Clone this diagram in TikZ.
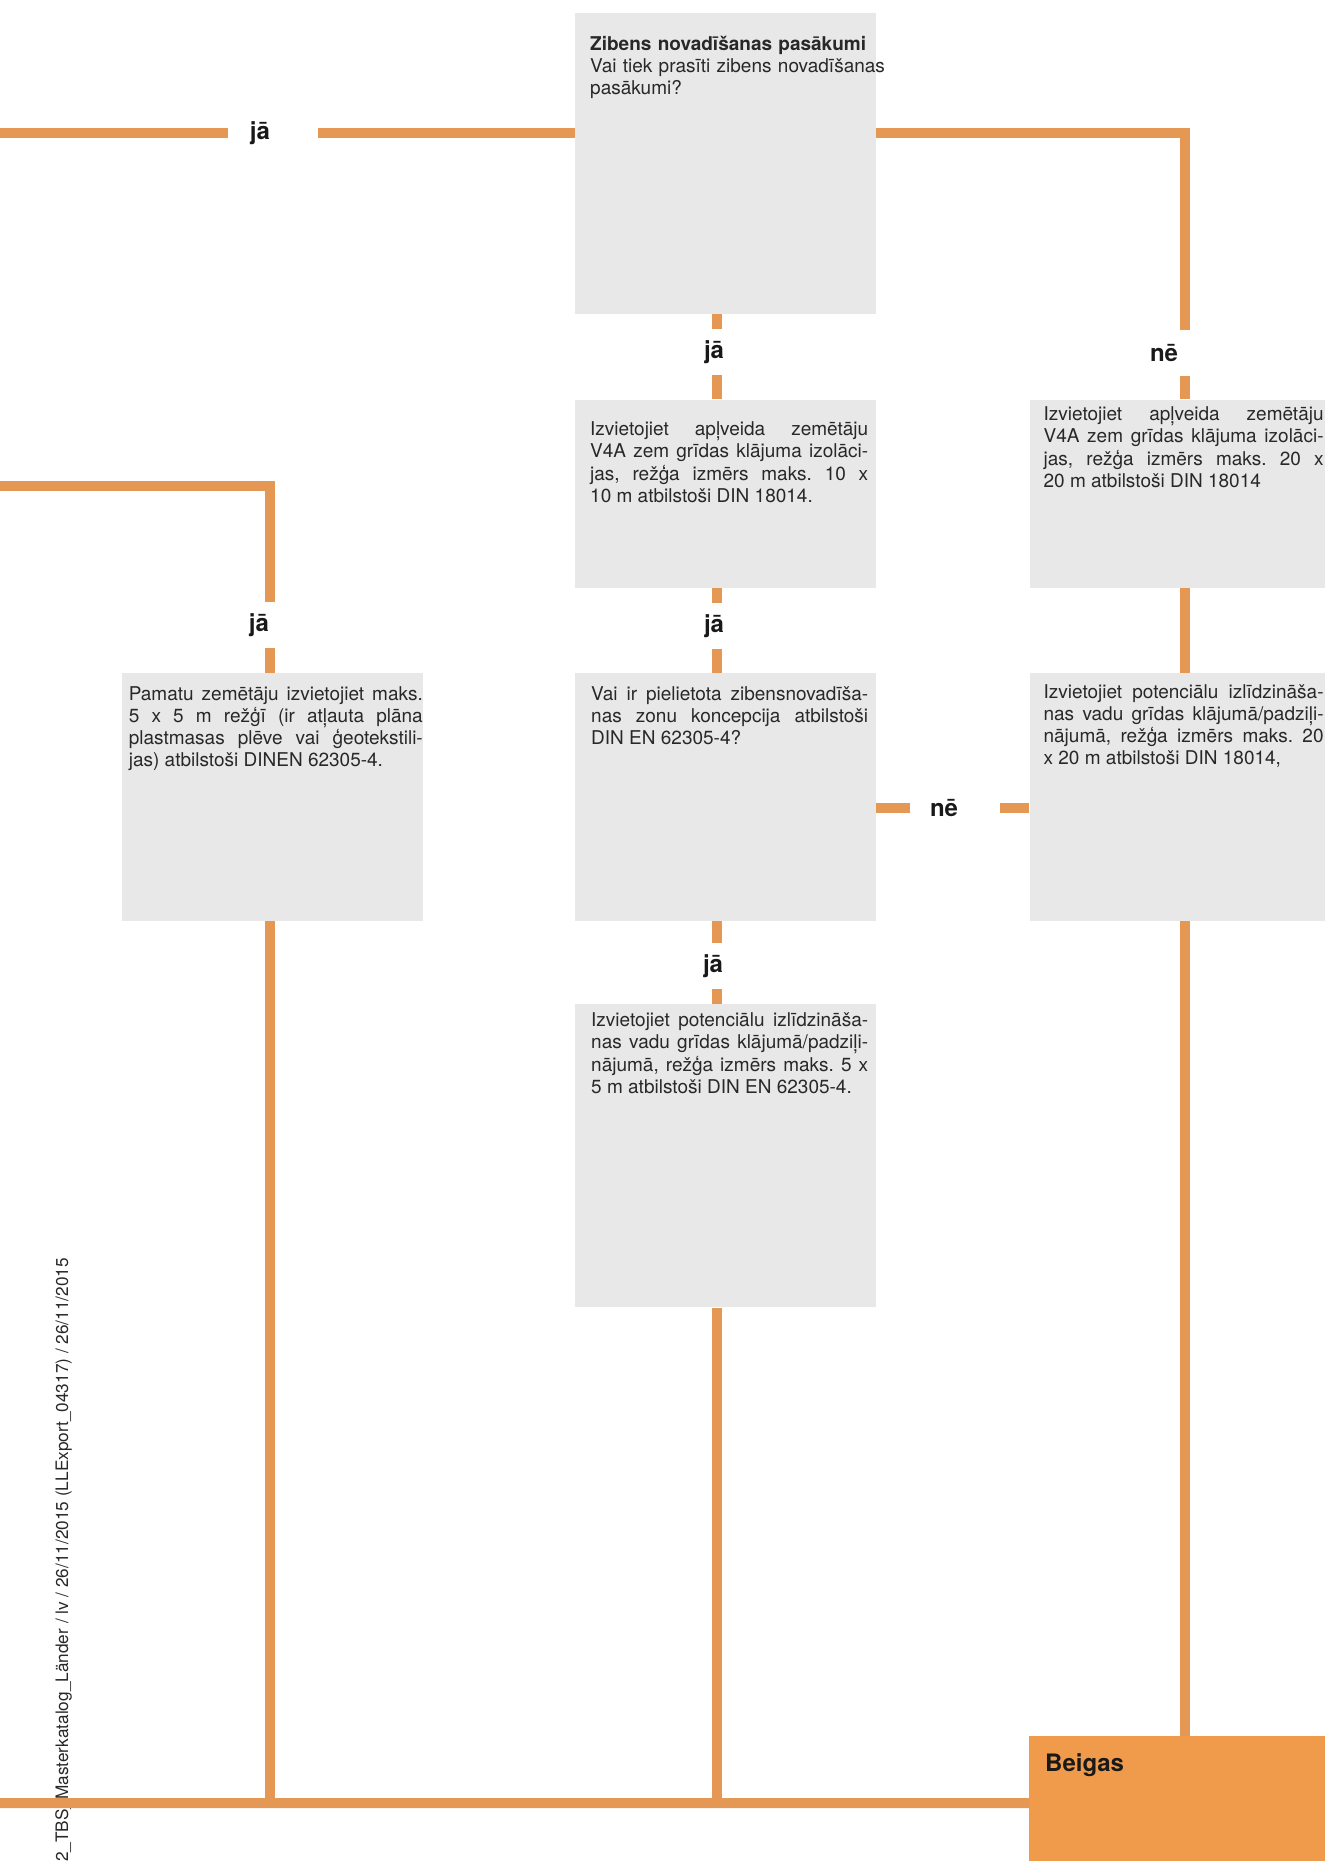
\documentclass[tikz,border=0pt]{standalone}
\usepackage{fontspec}
\setmainfont{TeX Gyre Heros}
\usetikzlibrary{positioning}

\definecolor{wireorange}{RGB}{229,152,84}
\definecolor{endorange}{RGB}{240,155,75}
\definecolor{boxgrey}{RGB}{232,232,232}
\definecolor{inkgrey}{RGB}{40,40,40}

\frenchspacing
\tolerance=10000
\hbadness=10000
\hyphenpenalty=10000

\tikzset{
  box/.style={rectangle, fill=boxgrey, minimum width=301pt, inner sep=0pt},
  boxtext/.style={anchor=north west, inner sep=0pt, text=inkgrey, align=justify, font={\fontsize{19}{22.3}\selectfont\spaceskip=5.3pt plus 40pt minus 1pt\relax}},
  answer/.style={rectangle, minimum width=90pt, minimum height=46pt, inner sep=0pt, text=black!90, font=\fontsize{24}{26}\selectfont\bfseries},
  wire/.style={draw=wireorange, line width=10pt, line join=miter},
}

\begin{document}
\begin{tikzpicture}[x=1pt, y=-1pt]
    \useasboundingbox (0,0) rectangle (1325,1861);

    \node [box, minimum height=301pt, anchor=north west] (q1) at (575,13) {};
    \node [box, minimum height=188pt, below=85pt of q1] (b2) {};
    \node [box, minimum height=248pt, below=85pt of b2] (b5) {};
    \node [box, minimum height=303pt, below=83pt of b5] (b7) {};
    \node [box, minimum width=306pt, minimum height=188pt, right=153pt of b2] (b3) {};
    \node [box, minimum width=306pt, minimum height=248pt, right=153pt of b5] (b6) {};
    \node [box, minimum height=248pt, left=152pt of b5] (b4) {};
    \node [rectangle, fill=endorange, minimum width=306pt, minimum height=134pt, inner sep=0pt, anchor=north west] (beigas) at (1029,1736) {};

    \node [boxtext, align=left, text width=300pt, below right=21.4pt and 15pt of q1.north west] (q1txt) {\strut\textbf{Zibens novadīšanas pasākumi}\\Vai tiek prasīti zibens novadīšanas\\pasākumi?};
    \node [boxtext, text width=278pt, below right=20.4pt and 15pt of b2.north west] (b2txt) {\strut Izvietojiet apļveida zemētāju\linebreak V4A zem grīdas klājuma izolāci-\linebreak jas, režģa izmērs maks. 10 x\linebreak 10 m atbilstoši DIN 18014.};
    \node [boxtext, text width=280pt, below right=5.4pt and 14pt of b3.north west] (b3txt) {\strut Izvietojiet apļveida zemētāju\linebreak V4A zem grīdas klājuma izolāci-\linebreak jas, režģa izmērs maks. 20 x\linebreak 20 m atbilstoši DIN 18014};
    \node [boxtext, text width=294pt, below right=11.4pt and 7pt of b4.north west] (b4txt) {\strut Pamatu zemētāju izvietojiet maks.\linebreak 5 x 5 m režģī (ir atļauta plāna\linebreak plastmasas plēve vai ģeotekstili-\linebreak jas) atbilstoši DINEN 62305-4.};
    \node [boxtext, text width=277pt, below right=11.4pt and 16pt of b5.north west] (b5txt) {\strut Vai ir pielietota zibensnovadīša-\linebreak nas zonu koncepcija atbilstoši\linebreak DIN EN 62305-4?};
    \node [boxtext, text width=280pt, below right=9.4pt and 14pt of b6.north west] (b6txt) {\strut Izvietojiet potenciālu izlīdzināša-\linebreak nas vadu grīdas klājumā/padziļi-\linebreak nājumā, režģa izmērs maks. 20\linebreak x 20 m atbilstoši DIN 18014,};
    \node [boxtext, text width=277pt, below right=6.4pt and 16pt of b7.north west] (b7txt) {\strut Izvietojiet potenciālu izlīdzināša-\linebreak nas vadu grīdas klājumā/padziļi-\linebreak nājumā, režģa izmērs maks. 5 x\linebreak 5 m atbilstoši DIN EN 62305-4.};
    \node [anchor=base west, inner sep=0pt, text=black!90, font=\fontsize{24}{26}\selectfont\bfseries] (endtxt) at ([xshift=16pt, yshift=-35pt]beigas.north west) {Beigas};

    \node [answer] (ja0) at (260,133) {jā};
    \node [answer] (ja1) at (714,352) {jā};
    \node [answer] (ne1) at (1164,353) {nē};
    \node [answer] (ja2) at (714,626) {jā};
    \node [answer] (ja3) at (259,625) {jā};
    \node [answer] (ne2) at (944,808) {nē};
    \node [answer] (ja4) at (713,966) {jā};

    \node [rotate=90, anchor=base east, inner sep=0pt, text=inkgrey, font=\fontsize{17.2}{19}\selectfont] (stamp) at (68,1258) {2\_TBS\_Masterkatalog\_Länder / lv / 26/11/2015 (LLExport\_04317) / 26/11/2015};

    \coordinate (colL) at (270,0);
    \coordinate (colM) at (717,0);
    \coordinate (colR) at (1185,0);
    \coordinate (in1) at (-10,133);
    \coordinate (in2) at (-10,486);
    \coordinate (in3) at (-10,1803);

    \draw [wire] (in1) -- ([xshift=-32pt]ja0.center);
    \draw [wire] ([xshift=58pt]ja0.center) -- (q1.west |- ja0);
    \draw [wire] (q1.east |- ja0) -| (ne1.north -| colR);
    \draw [wire] (ne1.south -| colR) -- (b3.north -| colR);
    \draw [wire] (b3.south -| colR) -- (b6.north -| colR);
    \draw [wire] (b6.south -| colR) -- (beigas.north -| colR);
    \draw [wire] (q1.south -| colM) -- (ja1.north -| colM);
    \draw [wire] (ja1.south -| colM) -- (b2.north -| colM);
    \draw [wire] (b2.south -| colM) -- (ja2.north -| colM);
    \draw [wire] (ja2.south -| colM) -- (b5.north -| colM);
    \draw [wire] (b5.south -| colM) -- (ja4.north -| colM);
    \draw [wire] (ja4.south -| colM) -- (b7.north -| colM);
    \draw [wire] (b7.south -| colM) -- (colM |- beigas.west);
    \draw [wire] (b5.east |- ne2) -- ([xshift=-34pt]ne2.center);
    \draw [wire] ([xshift=56pt]ne2.center) -- (b6.west |- ne2);
    \draw [wire] (in2) -| (ja3.north -| colL);
    \draw [wire] (ja3.south -| colL) -- (b4.north -| colL);
    \draw [wire] (b4.south -| colL) -- (colL |- beigas.west);
    \draw [wire] (in3) -- (beigas.west);
\end{tikzpicture}
\end{document}
